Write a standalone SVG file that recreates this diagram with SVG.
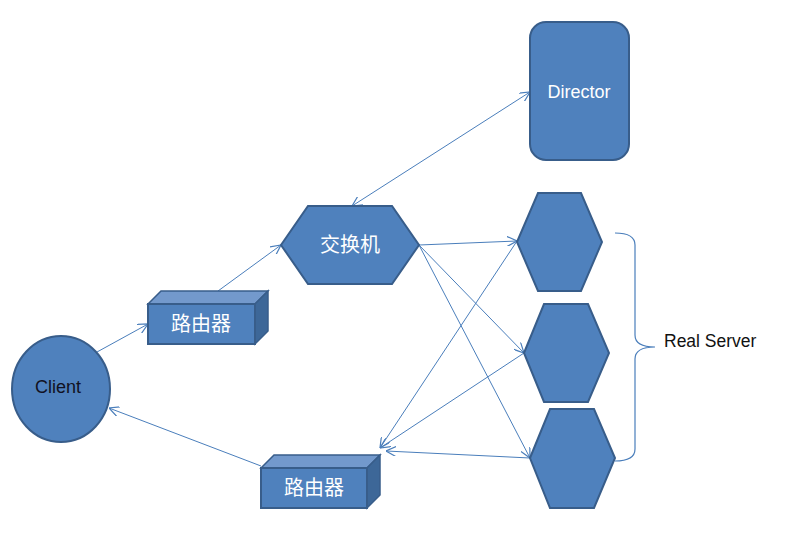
<svg xmlns="http://www.w3.org/2000/svg" width="800" height="542" viewBox="0 0 800 542">
<style>
.shape{fill:#4F81BD;stroke:#385D8A;stroke-width:2}
.top{fill:#7399CC;stroke:#385D8A;stroke-width:1.5}
.side{fill:#3D6798;stroke:#385D8A;stroke-width:1.5}
.lbl{font-family:"Liberation Sans","Noto Sans CJK SC",sans-serif;font-size:18px;fill:#ffffff;text-anchor:middle;dominant-baseline:central}
.cjk{font-size:20px}
.dark{fill:#111122}
.conn line{stroke:#4A7EBB;stroke-width:1;fill:none}
</style>
<defs>
<marker id="arr" viewBox="0 0 10 10" refX="10" refY="5" markerWidth="10" markerHeight="10" markerUnits="userSpaceOnUse" orient="auto-start-reverse">
<path d="M0,0 L10,5 L0,10" fill="none" stroke="#4A7EBB" stroke-width="1.2"/>
</marker>
</defs>
<rect width="800" height="542" fill="#ffffff"/>
<g class="conn">
<line x1="97" y1="352" x2="148" y2="324" marker-end="url(#arr)"/>
<line x1="218" y1="291" x2="281" y2="245" marker-end="url(#arr)"/>
<line x1="352" y1="206" x2="530" y2="92" marker-start="url(#arr)" marker-end="url(#arr)"/>
<line x1="419" y1="245" x2="517" y2="241" marker-end="url(#arr)"/>
<line x1="419" y1="245" x2="524" y2="353" marker-end="url(#arr)"/>
<line x1="419" y1="245" x2="530" y2="458" marker-end="url(#arr)"/>
<line x1="517" y1="241" x2="380" y2="448" marker-end="url(#arr)"/>
<line x1="524" y1="353" x2="380" y2="448" marker-end="url(#arr)"/>
<line x1="530" y1="458" x2="386" y2="451" marker-end="url(#arr)"/>
<line x1="261" y1="466" x2="109" y2="408" marker-end="url(#arr)"/>
</g>
<g id="director">
<rect class="shape" x="530" y="22" width="99" height="138" rx="16"/>
<text class="lbl" x="579" y="92">Director</text>
</g>
<g id="switch">
<polygon class="shape" points="281,245 308,206 392,206 419,245 392,284 308,284"/>
<text class="lbl cjk" x="350" y="245">交换机</text>
</g>
<g id="server1">
<polygon class="shape" points="517,242 538,193 581,193 602,242 581,291 538,291"/>
</g>
<g id="server2">
<polygon class="shape" points="524,353 544,304 588,304 609,353 588,402 544,402"/>
</g>
<g id="server3">
<polygon class="shape" points="530,458 550,409 594,409 615,458 594,508 550,508"/>
</g>
<g id="client">
<ellipse class="shape" cx="61" cy="389" rx="49" ry="53"/>
<text class="lbl dark" x="58" y="387">Client</text>
</g>
<g id="router1">
<polygon class="top" points="148,304 161,291 268,291 255,304"/>
<polygon class="side" points="255,304 268,291 268,331 255,344"/>
<rect class="shape" x="148" y="304" width="107" height="40" stroke-width="1.5"/>
<text class="lbl cjk" x="201" y="324">路由器</text>
</g>
<g id="router2">
<polygon class="top" points="261,468 274,455 380,455 367,468"/>
<polygon class="side" points="367,468 380,455 380,495 367,508"/>
<rect class="shape" x="261" y="468" width="106" height="40" stroke-width="1.5"/>
<text class="lbl cjk" x="314" y="488">路由器</text>
</g>
<g id="brace">
<path d="M615,233 Q635,233 635,245 L635,335 Q635,347 655,347 Q635,347 635,359 L635,449 Q635,461 615,461" fill="none" stroke="#4A7EBB" stroke-width="1.2"/>
<text x="664" y="341" font-family="'Liberation Sans',sans-serif" font-size="17.5" fill="#111111" dominant-baseline="central">Real Server</text>
</g>
</svg>
